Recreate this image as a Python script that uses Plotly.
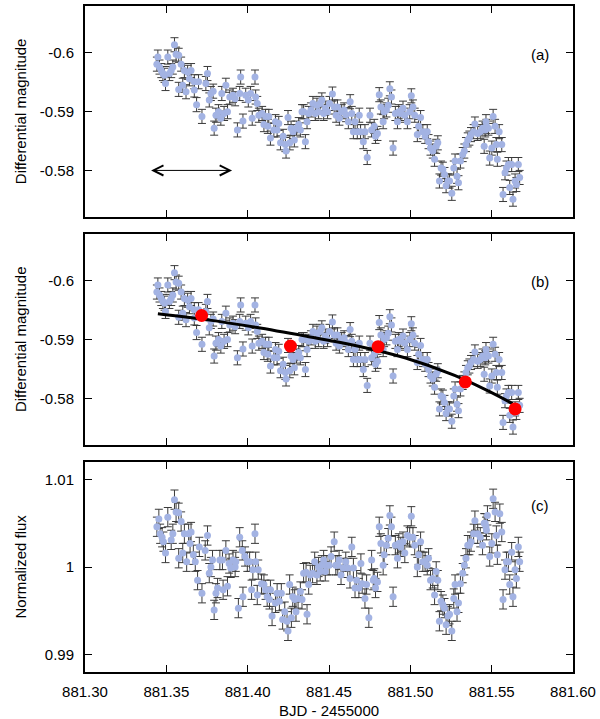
import plotly.graph_objects as go

# light curve, differential magnitude (panels a and b)
bjd_mag = [
    881.3442, 881.3448, 881.3458, 881.3469, 881.3479, 881.3489, 881.3495, 881.3509, 881.3519, 881.3530,
    881.3540, 881.3550, 881.3560, 881.3576, 881.3576, 881.3591, 881.3601, 881.3611, 881.3621, 881.3631,
    881.3642, 881.3652, 881.3672, 881.3672, 881.3686, 881.3698, 881.3719, 881.3743, 881.3753, 881.3764,
    881.3774, 881.3788, 881.3794, 881.3805, 881.3821, 881.3835, 881.3841, 881.3855, 881.3866, 881.3876,
    881.3890, 881.3910, 881.3923, 881.3937, 881.3951, 881.3957, 881.3971, 881.3988, 881.4004, 881.4018,
    881.4028, 881.4045, 881.4049, 881.4059,
    881.4069, 881.4089, 881.4100, 881.4110, 881.4124, 881.4130, 881.4140, 881.4161, 881.4171, 881.4181,
    881.4191, 881.4202, 881.4218, 881.4232, 881.4236, 881.4248, 881.4259, 881.4267, 881.4279, 881.4287,
    881.4300, 881.4314, 881.4324, 881.4334, 881.4344, 881.4355, 881.4365, 881.4375, 881.4389, 881.4401,
    881.4416, 881.4426, 881.4436, 881.4446, 881.4456, 881.4467, 881.4477, 881.4491, 881.4503, 881.4521,
    881.4532, 881.4544, 881.4552, 881.4564, 881.4578, 881.4593, 881.4605, 881.4619, 881.4630, 881.4640,
    881.4650, 881.4660, 881.4674, 881.4686, 881.4694, 881.4711, 881.4721, 881.4735, 881.4752, 881.4762,
    881.4778, 881.4786, 881.4798, 881.4809, 881.4819, 881.4833, 881.4839, 881.4853, 881.4864, 881.4874,
    881.4884, 881.4894, 881.4908, 881.4921, 881.4929, 881.4941, 881.4955, 881.4966, 881.4982, 881.4996,
    881.5006, 881.5016, 881.5027, 881.5043, 881.5051, 881.5063, 881.5077, 881.5091, 881.5104, 881.5112,
    881.5124, 881.5138, 881.5149, 881.5159, 881.5169, 881.5179, 881.5189, 881.5200, 881.5210, 881.5220,
    881.5231, 881.5241, 881.5255, 881.5267, 881.5275, 881.5287, 881.5296, 881.5308, 881.5322, 881.5332,
    881.5342, 881.5353, 881.5363, 881.5373, 881.5389, 881.5397, 881.5414, 881.5430, 881.5444, 881.5454,
    881.5465,
    881.5460, 881.5468, 881.5480, 881.5488, 881.5501, 881.5509, 881.5521, 881.5529, 881.5535, 881.5546,
    881.5562, 881.5570, 881.5582, 881.5591, 881.5603, 881.5611, 881.5623, 881.5631, 881.5644, 881.5652,
    881.5664, 881.5672,
]
mag = [
    -0.5981, -0.5993, -0.5976, -0.5970, -0.5965, -0.5962, -0.5948, -0.5993, -0.5965, -0.5970,
    -0.5976, -0.6014, -0.5998, -0.5996, -0.5938, -0.5981, -0.5945, -0.5970, -0.5934, -0.5967,
    -0.5956, -0.5970, -0.5937, -0.5951, -0.5912, -0.5951, -0.5892, -0.5948, -0.5965, -0.5920,
    -0.5931, -0.5935, -0.5872, -0.5894, -0.5900, -0.5889, -0.5931, -0.5897, -0.5945, -0.5900,
    -0.5925, -0.5928, -0.5922, -0.5869, -0.5931, -0.5959, -0.5884, -0.5928, -0.5920, -0.5931,
    -0.5889, -0.5959, -0.5925, -0.5914,
    -0.5894, -0.5897, -0.5878, -0.5892, -0.5875, -0.5892, -0.5855, -0.5869, -0.5883, -0.5869,
    -0.5880, -0.5847, -0.5858, -0.5844, -0.5833, -0.5890, -0.5847, -0.5872, -0.5866, -0.5852,
    -0.5872, -0.5878, -0.5869, -0.5900, -0.5900, -0.5849, -0.5883, -0.5897, -0.5903, -0.5914,
    -0.5897, -0.5911, -0.5900, -0.5914, -0.5920, -0.5897, -0.5906, -0.5900, -0.5914, -0.5930,
    -0.5908, -0.5894, -0.5908, -0.5889, -0.5900, -0.5903, -0.5895, -0.5883, -0.5917, -0.5897,
    -0.5866, -0.5883, -0.5866, -0.5894, -0.5866, -0.5849, -0.5866, -0.5822, -0.5894, -0.5869,
    -0.5875, -0.5858, -0.5863, -0.5929, -0.5908, -0.5883, -0.5900, -0.5903, -0.5911, -0.5939,
    -0.5925, -0.5838, -0.5897, -0.5883, -0.5900, -0.5897, -0.5906, -0.5894, -0.5883, -0.5900,
    -0.5927, -0.5908, -0.5894, -0.5861, -0.5875, -0.5890, -0.5866, -0.5858, -0.5866, -0.5849,
    -0.5838, -0.5833, -0.5819, -0.5841, -0.5847, -0.5782, -0.5804, -0.5802, -0.5793, -0.5774,
    -0.5782, -0.5782, -0.5761, -0.5804, -0.5816, -0.5790, -0.5779, -0.5816, -0.5827, -0.5833,
    -0.5844, -0.5852, -0.5855, -0.5861, -0.5866, -0.5879, -0.5863, -0.5866, -0.5872, -0.5841,
    -0.5883,
    -0.5869, -0.5875, -0.5872, -0.5821, -0.5838, -0.5892, -0.5875, -0.5844, -0.5819, -0.5866,
    -0.5844, -0.5759, -0.5796, -0.5804, -0.5810, -0.5771, -0.5810, -0.5751, -0.5782, -0.5776,
    -0.5810, -0.5788,
]
mag_err = 0.0012

# binned points and trend fit (panel b)
bjd_bin = [881.3717, 881.4263, 881.4802, 881.5338, 881.5644]
mag_bin = [-0.5941, -0.5889, -0.5888, -0.5828, -0.5782]
bjd_fit = [881.3448, 881.3743, 881.4049, 881.4355, 881.4660, 881.4966, 881.5272, 881.5475, 881.5628]
mag_fit = [-0.5944, -0.5934, -0.5921, -0.5906, -0.5890, -0.5869, -0.5839, -0.5813, -0.5791]

# detrended normalized flux (panel c)
bjd_flux = [
    881.3442, 881.3454, 881.3462, 881.3474, 881.3482, 881.3495, 881.3509, 881.3530, 881.3540, 881.3550,
    881.3560, 881.3576, 881.3591, 881.3576, 881.3601, 881.3611, 881.3625, 881.3637, 881.3652, 881.3646,
    881.3666, 881.3678, 881.3692, 881.3703, 881.3719, 881.3739, 881.3753, 881.3764, 881.3774, 881.3784,
    881.3794, 881.3805, 881.3815, 881.3829, 881.3845, 881.3849, 881.3866, 881.3876, 881.3886, 881.3896,
    881.3910, 881.3923, 881.3927, 881.3943, 881.3951, 881.3967, 881.3971, 881.3984, 881.3998, 881.4012,
    881.4024, 881.4032, 881.4045, 881.4059, 881.4065,
    881.4049, 881.4085, 881.4100, 881.4110, 881.4120, 881.4134, 881.4140, 881.4150, 881.4171, 881.4181,
    881.4195, 881.4207, 881.4215, 881.4228, 881.4242, 881.4248, 881.4258, 881.4269, 881.4277, 881.4289,
    881.4297, 881.4310, 881.4324, 881.4334, 881.4344, 881.4359, 881.4365, 881.4375, 881.4385, 881.4399,
    881.4412, 881.4426, 881.4436, 881.4446, 881.4456, 881.4467, 881.4477, 881.4487, 881.4501, 881.4513,
    881.4532, 881.4542, 881.4554, 881.4562, 881.4574, 881.4588, 881.4603, 881.4615, 881.4629, 881.4640,
    881.4650, 881.4660, 881.4670, 881.4684, 881.4696, 881.4704, 881.4721, 881.4731, 881.4745, 881.4762,
    881.4772,
    881.4778, 881.4786, 881.4798, 881.4809, 881.4819, 881.4833, 881.4839, 881.4853, 881.4864, 881.4874,
    881.4884, 881.4894, 881.4908, 881.4921, 881.4929, 881.4941, 881.4955, 881.4966, 881.4982, 881.4996,
    881.5006, 881.5016, 881.5027, 881.5043, 881.5051, 881.5063, 881.5077, 881.5091, 881.5104, 881.5112,
    881.5124, 881.5138, 881.5149, 881.5159, 881.5169, 881.5179, 881.5189, 881.5200, 881.5210, 881.5220,
    881.5231, 881.5241, 881.5255, 881.5267, 881.5275, 881.5287, 881.5296, 881.5308, 881.5322, 881.5332,
    881.5342, 881.5353, 881.5363, 881.5373, 881.5389, 881.5397, 881.5414, 881.5430, 881.5444, 881.5454,
    881.5465,
    881.5460, 881.5468, 881.5474, 881.5488, 881.5501, 881.5509, 881.5521, 881.5529, 881.5535, 881.5550,
    881.5562, 881.5570, 881.5582, 881.5591, 881.5603, 881.5611, 881.5623, 881.5631, 881.5644, 881.5652,
    881.5664, 881.5672,
]
flux = [
    1.0046, 1.0055, 1.0038, 1.0034, 1.0029, 1.0016, 1.0057, 1.0031, 1.0038, 1.0077,
    1.0063, 1.0062, 1.0052, 1.0010, 1.0016, 1.0038, 1.0006, 1.0038, 1.0040, 1.0027,
    1.0014, 1.0006, 0.9985, 1.0023, 0.9970, 1.0019, 1.0036, 0.9993, 1.0000, 1.0008,
    0.9951, 0.9970, 0.9976, 1.0008, 1.0008, 0.9974, 1.0019, 0.9978, 1.0004, 0.9999,
    1.0008, 1.0000, 1.0006, 0.9953, 1.0034, 1.0019, 0.9966, 1.0012, 1.0006, 1.0006,
    0.9974, 0.9997, 1.0038, 0.9968, 0.9997,
    1.0006, 0.9981, 0.9980, 0.9974, 0.9966, 0.9963, 0.9974, 0.9944, 0.9959, 0.9970,
    0.9961, 0.9970, 0.9940, 0.9949, 0.9938, 0.9927, 0.9980, 0.9942, 0.9966, 0.9963,
    0.9949, 0.9964, 0.9972, 0.9963, 0.9993, 0.9994, 0.9946, 0.9980, 0.9991, 0.9993,
    1.0006, 0.9991, 1.0000, 0.9995, 1.0002, 1.0008, 0.9995, 1.0002, 1.0002, 1.0012,
    1.0029, 1.0002, 1.0002, 1.0008, 0.9991, 0.9999, 1.0006, 0.9999, 0.9987, 1.0023,
    0.9999, 0.9976, 0.9985, 0.9976, 1.0004, 0.9981, 0.9964, 0.9980, 0.9942, 1.0008,
    0.9985,
    0.9987, 0.9976, 0.9983, 1.0046, 1.0027, 1.0002, 1.0014, 1.0025, 1.0033, 1.0059,
    1.0046, 0.9966, 1.0025, 1.0010, 1.0027, 1.0023, 1.0029, 1.0016, 1.0036, 1.0034,
    1.0058, 1.0034, 1.0025, 1.0000, 1.0014, 1.0029, 1.0006, 1.0006, 1.0002, 1.0010,
    0.9985, 0.9987, 0.9968, 0.9995, 0.9985, 0.9938, 0.9961, 0.9957, 0.9953, 0.9934,
    0.9944, 0.9946, 0.9927, 0.9964, 0.9980, 0.9949, 0.9959, 0.9981, 0.9993, 1.0002,
    1.0010, 1.0025, 1.0025, 1.0029, 1.0038, 1.0053, 1.0038, 1.0034, 1.0025, 1.0050,
    1.0046,
    1.0050, 1.0042, 1.0059, 1.0012, 1.0027, 1.0078, 1.0063, 1.0036, 1.0014, 1.0061,
    1.0040, 0.9963, 0.9997, 1.0006, 1.0006, 0.9980, 1.0017, 0.9966, 0.9997, 0.9987,
    1.0023, 1.0006,
]
flux_err = 0.0011

x_ticks = [881.30, 881.35, 881.40, 881.45, 881.50, 881.55, 881.60]
x_ticktext = ["881.30", "881.35", "881.40", "881.45", "881.50", "881.55", "881.60"]
mag_ticks = [-0.60, -0.59, -0.58]
mag_ticktext = ["-0.6", "-0.59", "-0.58"]
flux_ticks = [0.99, 1.00, 1.01]
flux_ticktext = ["0.99", "1", "1.01"]

FONT = "Liberation Sans"
PT_COLOR = "#a3b3e3"
ERR_COLOR = "#3a3a3a"


def data_trace(x, y, err, xa, ya):
    return go.Scatter(
        x=x, y=y, mode="markers", xaxis=xa, yaxis=ya, showlegend=False,
        marker=dict(color=PT_COLOR, size=7),
        error_y=dict(type="constant", value=err, color=ERR_COLOR, thickness=1, width=4),
    )


fig = go.Figure()
fig.add_trace(data_trace(bjd_mag, mag, mag_err, "x", "y"))
fig.add_trace(data_trace(bjd_mag, mag, mag_err, "x2", "y2"))
fig.add_trace(go.Scatter(x=bjd_fit, y=mag_fit, mode="lines", xaxis="x2", yaxis="y2",
                         line=dict(color="black", width=3, shape="spline"), showlegend=False))
fig.add_trace(go.Scatter(x=bjd_bin, y=mag_bin, mode="markers", xaxis="x2", yaxis="y2",
                         marker=dict(color="#ff0000", size=13), showlegend=False,
                         error_y=dict(type="constant", value=0.0003, color="#ff0000", thickness=1, width=3)))
fig.add_trace(data_trace(bjd_flux, flux, flux_err, "x3", "y3"))

axis_style = dict(
    showline=True, linecolor="black", linewidth=2, mirror="ticks",
    ticks="inside", ticklen=7, tickwidth=1, tickcolor="black",
    showgrid=False, zeroline=False,
    tickfont=dict(family=FONT, size=15, color="black"),
)

for name, anchor, labels in [("xaxis", "y", False), ("xaxis2", "y2", False), ("xaxis3", "y3", True)]:
    fig.layout[name] = dict(axis_style, anchor=anchor, range=[881.30, 881.60],
                            tickvals=x_ticks, ticktext=x_ticktext, showticklabels=labels,
                            ticklabelstandoff=5)

fig.layout["yaxis"] = dict(axis_style, anchor="x", domain=[0.6826, 1.0], range=[-0.572, -0.608],
                           tickvals=mag_ticks, ticktext=mag_ticktext, ticklabelstandoff=6)
fig.layout["yaxis2"] = dict(axis_style, anchor="x2", domain=[0.3404, 0.6578], range=[-0.572, -0.608],
                            tickvals=mag_ticks, ticktext=mag_ticktext, ticklabelstandoff=6)
fig.layout["yaxis3"] = dict(axis_style, anchor="x3", domain=[0.0, 0.3153], range=[0.988, 1.012],
                            tickvals=flux_ticks, ticktext=flux_ticktext, ticklabelstandoff=6)

txt = dict(family=FONT, size=15, color="black")
annos = [
    dict(text="(a)", x=881.5798, y=-0.5998, xref="x", yref="y", showarrow=False, font=txt),
    dict(text="(b)", x=881.5798, y=-0.5999, xref="x2", yref="y2", showarrow=False, font=txt),
    dict(text="(c)", x=881.5798, y=1.0070, xref="x3", yref="y3", showarrow=False, font=txt),
    dict(text="Differential magnitude", textangle=-90, xref="paper", yref="y domain",
         x=0, y=0.5, xshift=-75, showarrow=False, font=txt),
    dict(text="Differential magnitude", textangle=-90, xref="paper", yref="y2 domain",
         x=0, y=0.5, xshift=-75, showarrow=False, font=txt),
    dict(text="Normalized flux", textangle=-90, xref="paper", yref="y3 domain",
         x=0, y=0.5, xshift=-75, showarrow=False, font=txt),
    dict(text="BJD - 2455000", xref="paper", yref="paper", x=0.5, y=0, yshift=-38,
         yanchor="middle", showarrow=False, font=txt),
    # exposure-length arrow in panel (a)
    dict(x=881.3904, y=-0.58, ax=881.3397, ay=-0.58, xref="x", yref="y", axref="x", ayref="y",
         text="", showarrow=True, arrowhead=5, arrowside="end+start", arrowsize=2,
         arrowwidth=1, arrowcolor="black"),
]
fig.update_layout(
    width=600, height=719,
    margin=dict(l=85, r=24, t=4, b=47),
    paper_bgcolor="white", plot_bgcolor="white",
    annotations=annos,
)

# the page body has a default 8px margin; drop it so the figure sits at the corner
fig.write_html("out.html", config={"displayModeBar": False},
               post_script="document.body.style.margin = '0';")
